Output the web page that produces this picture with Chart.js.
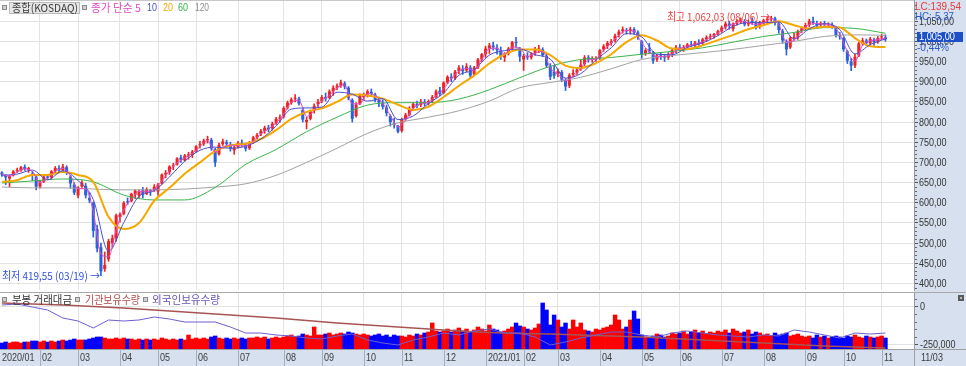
<!DOCTYPE html>
<html><head><meta charset="utf-8">
<script src="https://cdn.jsdelivr.net/npm/chart.js@4/dist/chart.umd.min.js"></script>
<style>
html,body{margin:0;padding:0;background:#fff;}
#wrap{position:relative;width:966px;height:366px;overflow:hidden;background:#fff;}
#c1{position:absolute;left:0;top:0;}
#c2{position:absolute;left:0;top:291px;}
</style></head><body>
<div id="wrap"><canvas id="c1" width="966" height="291"></canvas><canvas id="c2" width="966" height="75"></canvas></div>
<script>
// ---------------- DATA ----------------
const candleDates = [
'2020/01/02','2020/01/06','2020/01/08','2020/01/10','2020/01/14','2020/01/16','2020/01/20','2020/01/22','2020/01/28','2020/01/30',
'2020/02/03','2020/02/05','2020/02/07','2020/02/11','2020/02/13','2020/02/17','2020/02/19','2020/02/21','2020/02/25','2020/02/27',
'2020/03/02','2020/03/04','2020/03/06','2020/03/10','2020/03/12','2020/03/16','2020/03/18','2020/03/20','2020/03/24','2020/03/26','2020/03/30',
'2020/04/01','2020/04/03','2020/04/07','2020/04/09','2020/04/13','2020/04/16','2020/04/20','2020/04/22','2020/04/24','2020/04/28',
'2020/05/04','2020/05/07','2020/05/11','2020/05/13','2020/05/15','2020/05/19','2020/05/21','2020/05/25','2020/05/27','2020/05/29',
'2020/06/01','2020/06/03','2020/06/05','2020/06/09','2020/06/11','2020/06/15','2020/06/17','2020/06/19','2020/06/23','2020/06/25','2020/06/29',
'2020/07/01','2020/07/03','2020/07/07','2020/07/09','2020/07/13','2020/07/15','2020/07/17','2020/07/21','2020/07/23','2020/07/27','2020/07/29','2020/07/31',
'2020/08/03','2020/08/05','2020/08/07','2020/08/11','2020/08/13','2020/08/18','2020/08/20','2020/08/24','2020/08/26','2020/08/28',
'2020/09/01','2020/09/03','2020/09/07','2020/09/09','2020/09/11','2020/09/15','2020/09/17','2020/09/21','2020/09/23','2020/09/25','2020/09/29',
'2020/10/05','2020/10/07','2020/10/12','2020/10/14','2020/10/16','2020/10/20','2020/10/22','2020/10/26','2020/10/28','2020/10/30',
'2020/11/02','2020/11/04','2020/11/06','2020/11/10','2020/11/12','2020/11/16','2020/11/18','2020/11/20','2020/11/24','2020/11/26','2020/11/30',
'2020/12/01','2020/12/03','2020/12/07','2020/12/09','2020/12/11','2020/12/15','2020/12/17','2020/12/21','2020/12/23','2020/12/28','2020/12/30',
'2021/01/04','2021/01/06','2021/01/08','2021/01/12','2021/01/14','2021/01/18','2021/01/20','2021/01/22','2021/01/26','2021/01/28',
'2021/02/01','2021/02/03','2021/02/05','2021/02/09','2021/02/15','2021/02/17','2021/02/19','2021/02/23','2021/02/25',
'2021/03/02','2021/03/04','2021/03/08','2021/03/10','2021/03/12','2021/03/16','2021/03/18','2021/03/22','2021/03/24','2021/03/26','2021/03/30',
'2021/04/01','2021/04/05','2021/04/07','2021/04/09','2021/04/13','2021/04/15','2021/04/19','2021/04/21','2021/04/23','2021/04/27','2021/04/29',
'2021/05/03','2021/05/06','2021/05/10','2021/05/12','2021/05/14','2021/05/18','2021/05/21','2021/05/25','2021/05/27','2021/05/31',
'2021/06/01','2021/06/03','2021/06/07','2021/06/09','2021/06/11','2021/06/15','2021/06/17','2021/06/21','2021/06/23','2021/06/25','2021/06/29',
'2021/07/01','2021/07/05','2021/07/07','2021/07/09','2021/07/13','2021/07/15','2021/07/19','2021/07/21','2021/07/23','2021/07/27','2021/07/29',
'2021/08/02','2021/08/04','2021/08/06','2021/08/10','2021/08/12','2021/08/17','2021/08/19','2021/08/23','2021/08/25','2021/08/27','2021/08/31',
'2021/09/01','2021/09/03','2021/09/07','2021/09/09','2021/09/13','2021/09/15','2021/09/17','2021/09/24','2021/09/28','2021/09/30',
'2021/10/01','2021/10/06','2021/10/08','2021/10/13','2021/10/15','2021/10/19','2021/10/21','2021/10/25','2021/10/27','2021/10/29',
'2021/11/01','2021/11/03'];

const openP = [
675,668,660,668,679,680,689,682,672,665, 640,652,665,663,678,686,680,688,665,645,
618,640,642,612,600,535,490,436,460,500,512, 565,573,603,604,620,618,632,622,630,632,
628,648,670,676,690,695,712,705,717,718, 728,742,746,755,756,732,720,745,750,744,730,
738,748,744,735,750,762,770,778,786,784,797,808, 814,836,848,858,858,830,800,808,828,845,
852,862,860,876,885,890,896,885,855,815,845, 862,868,875,868,855,848,836,815,798,790,
778,808,818,835,845,842,850,846,854,862,878, 872,898,912,908,926,932,928,935,918,936,955,
968,982,990,984,978,960,970,982,998,980, 955,964,960,970,978,980,964,938,925,
918,924,902,890,918,922,932,944,960,955,956, 958,980,988,996,1002,1015,1026,1028,1025,1030,1022,
1000,970,980,972,955,965,962,960,968,978, 985,982,986,992,990,997,995,1005,1010,1012,1018,
1025,1035,1044,1030,1044,1050,1050,1042,1050,1045,1036, 1045,1052,1056,1057,1044,1025,1000,985,1008,1010,1026,
1032,1040,1050,1044,1040,1045,1040,1040,1034,1015, 1008,975,950,940,965,995,1002,995,1004,998,1010,1010];
const highP = [
677,670,668,680,686,690,694,688,678,668, 655,667,670,680,690,692,695,692,668,650,
640,655,648,625,602,545,500,478,510,520,572, 575,603,612,624,632,632,638,637,634,645,
648,672,680,692,698,712,718,720,725,730, 742,752,758,765,760,735,748,758,755,750,742,
752,756,748,752,765,772,782,790,792,800,812,818, 838,852,860,868,862,835,812,830,845,856,
866,872,880,890,895,904,900,888,858,848,870, 872,880,882,872,862,855,842,818,810,792,
810,822,838,848,852,856,856,855,866,880,886, 900,915,920,928,940,940,945,940,938,958,970,
988,995,998,992,986,972,985,1000,1010,985, 968,972,972,985,990,984,968,945,940,
932,928,908,920,930,935,955,965,965,962,962, 980,992,1000,1005,1018,1028,1036,1032,1035,1034,1026,
1002,982,995,975,968,972,968,972,982,990, 992,990,995,1000,1000,1004,1008,1014,1018,1020,1028,
1038,1048,1050,1046,1054,1058,1054,1052,1058,1050,1050, 1055,1060,1062.03,1060,1048,1030,1004,1012,1020,1028,1036,
1045,1055,1060,1050,1048,1050,1046,1046,1036,1022, 1010,978,958,968,998,1008,1006,1010,1008,1012,1018,1016];
const lowP = [
665,645,640,666,675,678,680,675,655,632, 636,650,658,660,674,676,678,670,636,620,
612,638,612,600,515,478,419.55,430,455,490,505, 552,570,596,602,610,612,612,620,618,628,
618,646,662,670,682,693,700,703,708,712, 725,735,742,748,730,690,718,742,738,728,720,
735,740,728,732,747,758,766,772,776,780,794,800, 810,832,844,850,842,800,783,805,822,838,
848,852,858,866,880,886,882,855,800,812,843, 855,862,866,850,838,832,815,790,785,773,
775,804,815,828,835,838,840,842,850,860,865, 870,895,900,905,920,918,925,910,915,932,950,
960,970,978,968,955,950,966,978,985,950, 928,955,956,965,972,962,935,905,908,
912,900,878,885,912,918,928,940,948,948,950, 955,975,982,990,998,1010,1020,1018,1018,1018,1005,
958,965,970,945,950,955,950,955,962,972, 978,975,982,988,985,990,990,1000,1005,1008,1015,
1022,1030,1030,1025,1040,1044,1038,1038,1042,1030,1032, 1040,1048,1050,1040,1020,995,966,982,1002,1005,1022,
1028,1036,1042,1032,1035,1036,1034,1032,1010,1005, 975,945,927,935,962,990,990,990,990,995,1004,1000];
const closeP = [
670,663,666,678,680,688,683,686,668,640, 652,665,662,678,686,680,690,675,648,625,
638,650,618,606,530,487,430,446,505,512,569, 571,600,601,622,630,629,620,634,629,640,
645,670,674,690,692,710,706,717,720,727, 740,745,754,758,735,700,744,752,746,735,738,
748,744,734,750,762,768,778,786,782,796,808,812, 835,848,856,860,846,806,805,828,840,850,
862,858,876,885,890,898,888,860,808,843,866, 868,876,870,856,848,838,822,800,795,776,
806,818,832,845,840,850,845,852,862,876,870, 898,912,908,925,935,926,938,915,935,955,968,
982,990,985,978,962,968,982,998,996,962, 964,960,968,980,982,966,940,912,915,
926,905,888,916,922,930,942,960,955,956,957, 978,988,996,1000,1014,1024,1030,1025,1030,1022,1012,
968,978,975,952,965,962,960,968,978,985, 982,986,992,990,997,994,1005,1010,1012,1018,1025,
1034,1044,1038,1044,1050,1052,1042,1048,1046,1036,1046, 1052,1056,1058,1046,1028,1002,980,1008,1010,1025,1032,
1040,1050,1046,1040,1045,1040,1042,1036,1015,1012, 980,952,940,962,995,1002,996,1006,998,1008,1012,1005];

const maPeriods = [5, 10, 20, 60, 120];
const ma5 = [672,666,676,684,678,650,661,678,685,667, 635,635,578,473,466,533,582,609,628,627,
634,654,680,699,711,722,739,754,726,738, 743,741,741,752,771,783,798,820,849,854,
814,828,853,866,885,892,845,845,871,866, 846,816,788,805,834,845,849,866,882,908,
926,933,928,956,982,983,968,986,983,962, 971,975,934,919,902,913,933,954,956,978,
996,1015,1027,1026,996,975,962,962,970,982, 988,993,999,1010,1020,1036,1042,1050,1046,1042,
1046,1056,1041,998,1003,1025,1042,1044,1042,1039, 1018,975,951,991,1001,1004,1008];
const ma10 = [668,671,681,657,679,655,608,480,551,616, 630,664,703,730,738,735,740,758,790,832,
835,837,874,869,852,858,806,815,846,872, 916,930,966,977,981,967,956,909,920,954,
984,1019,1011,968,967,985,996,1014,1037,1047, 1046,1048,1006,1031,1044,1029,969,992,1006];
const ma20 = [652,656,669,669,676,669,652,565,535,550, 605,637,672,700,728,742,746,758,780,808,
825,834,850,868,866,858,843,830,838,862, 890,915,945,968,980,980,966,940,934,946,
968,998,1015,1002,982,981,990,1003,1016,1030, 1040,1050,1040,1032,1036,1034,1008,988,986];
const ma60 = [649,654,659,652,619,607,607,638,695,732,776,812,842,848,848,857,880,910,938,955,960,968,975,984,998,1012,1022,1034,1032,1020];
const ma120 = [639,637,637,634,632,632,634,639,647,668,700,735,772,798,812,828,852,885,898,911,932,955,965,972,980,990,1000,1012,1016,1015];

// lower panel
const tradeValue = [
6,7,6,7,7,6,7,7,8,8, 7,8,7,8,7,8,9,8,9,10, 9,9,9,10,11,12,12,11,10,10,11, 10,11,10,10,9,10,9,10,9,10,
9,11,10,9,10,9,10,9,14,10, 11,10,11,10,12,13,11,10,11,10,11, 10,11,10,11,11,12,11,12,10,11,12,11,
12,13,14,12,13,15,14,13,22,14, 14,15,16,14,15,16,15,17,16,15,14, 15,14,13,14,15,13,14,12,14,13,
13,12,14,13,15,14,16,17,26,18,17, 18,20,17,19,21,18,20,17,19,22,20,
18,24,20,19,17,18,20,22,26,23, 22,20,19,21,25,46,39,24,34, 29,22,26,20,29,22,26,19,18,17,20,
19,21,22,24,34,29,20,22,29,38,30, 14,12,11,13,15,14,12,13,16,15, 16,18,15,17,19,16,18,15,17,16,18,
17,19,16,20,18,16,17,19,15,17,16, 14,15,13,16,14,15,16,13,14,15,13, 12,13,11,14,12,13,11,12,13,12,
11,13,12,14,12,11,13,12,11,12,13,11];
const foreignHold = [44,45,42,39,31,28,21,29,28,29, 32,30,27,27,27,22,16,16,14,13, 11,10,13,15,9,6,4,9,12,16,
14,18,20,16,16,12,4,7,11,14, 17,17,14,12,16,18,16,14,13,12, 14,13,19,17,14,11,16,15,16];
const instHold = [46,45,44,42.5,41,39,37,35,33,31,28.5,26,24,22,20,18,16.5,15.5,15,14,13,12,10.5,9,7.5,6,4.5,3,2,1];

const priceTicks = [400,450,500,550,600,650,700,750,800,850,900,950,1000,1050];
const volAxisTicks = [0, -250000];
const lcValue = 139.54, hcValue = -5.37, lastChangePct = -0.44;
const highMark = [1062.03, '08/06'];
const lowMark = [419.55, '03/19'];

// ---------------- HELPERS ----------------
const KFONT = '"Noto Sans CJK KR", "Noto Sans", sans-serif';
const NFONT = '"Liberation Sans", Arial, sans-serif';
const NUM_SX = 0.82;           // horizontal squeeze of numeric labels (narrow look)
const AXIS_BG = '#d6e0ee';
const UP = '#ec2424', DOWN = '#2a62dc';
const VUP = '#ff0000', VDOWN = '#0000ff';
const EMPTY_SLOTS = 7;
const labels = candleDates.concat(new Array(EMPTY_SLOTS).fill(''));
const monthStart = [];
candleDates.forEach((d, i) => { if (i === 0 || d.slice(0, 7) !== candleDates[i - 1].slice(0, 7)) monthStart.push(i); });
const monthSet = new Set(monthStart.filter(i => i > 0));
const monthLabel = i => { const d = candleDates[i]; const m = d.slice(5, 7); return m === '01' ? d.slice(0, 7) : m; };
const every = (arr, step) => arr.map((v, k) => ({ x: candleDates[k * step], y: v }));
const isUp = i => closeP[i] >= openP[i];

function fmt2(v) {
  const s = Math.abs(v).toFixed(2).split('.');
  return (v < 0 ? '-' : '') + s[0].replace(/\B(?=(\d{3})+(?!\d))/g, ',') + ',' + s[1];
}
function fmtInt(v) { return String(v).replace(/\B(?=(\d{3})+(?!\d))/g, ','); }
function fitText(ctx, txt, x, y, w, size, color, family, align) {
  ctx.save();
  ctx.font = size + 'px ' + family;
  const m = ctx.measureText(txt).width;
  const s = w / m;
  ctx.translate(align === 'right' ? x - w : x, y);
  ctx.scale(s, 1);
  ctx.fillStyle = color; ctx.textBaseline = 'middle'; ctx.textAlign = 'left';
  ctx.fillText(txt, 0, 0);
  ctx.restore();
}
function sText(ctx, txt, x, y, size, color, family, sx) {
  ctx.save();
  ctx.font = size + 'px ' + family;
  ctx.translate(x, y); ctx.scale(sx, 1);
  ctx.fillStyle = color; ctx.textBaseline = 'middle'; ctx.textAlign = 'left';
  ctx.fillText(txt, 0, 0);
  ctx.restore();
}
function icon(ctx, x, y) {
  ctx.fillStyle = '#8a8a8a'; ctx.fillRect(x, y, 5, 5);
  ctx.fillStyle = '#d0d0d0'; ctx.fillRect(x + 1, y + 1, 3, 3);
}
function lineDs(label, data, color, width, order, axis, smooth) {
  return { type: 'line', label, data, borderColor: color, backgroundColor: color, borderWidth: width,
    pointRadius: 0, tension: smooth ? 0.4 : 0, cubicInterpolationMode: smooth ? 'monotone' : 'default',
    yAxisID: axis, order };
}
const monthGrid = { offset: false, drawTicks: false, color: c => monthSet.has(c.index) ? '#e3e3e3' : 'rgba(0,0,0,0)' };

// ---------------- PRICE PANEL ----------------
const pricePlugin = {
  id: 'pricePanel',
  beforeDraw(chart) {
    const { ctx, chartArea: a, width, height } = chart;
    ctx.save();
    ctx.fillStyle = '#fff'; ctx.fillRect(0, 0, width, height);
    ctx.fillStyle = AXIS_BG; ctx.fillRect(a.right, 0, width - a.right, height);
    ctx.restore();
  },
  afterDraw(chart) {
    const { ctx, chartArea: a } = chart;
    const xs = chart.scales.x, ys = chart.scales.y;
    ctx.save();
    ctx.fillStyle = '#c8c8c8'; ctx.fillRect(0, 0, a.right, 1);
    // minor ticks
    ctx.fillStyle = '#666';
    for (let v = 390; v <= 1100; v += 10) {
      if (v % 50 === 0) continue;
      ctx.fillRect(a.right + 1, Math.round(ys.getPixelForValue(v)), 2, 1);
    }
    // tick labels of the price axis
    priceTicks.forEach(v => sText(ctx, fmt2(v), a.right + 5, ys.getPixelForValue(v) + 0.5, 11, '#333', NFONT, NUM_SX));
    // title legend
    icon(ctx, 2, 5);
    ctx.fillStyle = '#e6e6e6'; ctx.fillRect(9, 2, 71, 12);
    ctx.strokeStyle = '#bcbcbc'; ctx.lineWidth = 1; ctx.strokeRect(9.5, 2.5, 70, 11);
    fitText(ctx, '종합(KOSDAQ)', 12, 8, 66, 11, '#3a3a3a', KFONT);
    icon(ctx, 82, 5);
    fitText(ctx, '종가 단순 ' + maPeriods[0], 91, 8, 50, 11, '#e04cc4', KFONT);
    fitText(ctx, String(maPeriods[1]), 147, 8, 10, 11, '#4a50c8', NFONT);
    fitText(ctx, String(maPeriods[2]), 163, 8, 10, 11, '#f0a800', NFONT);
    fitText(ctx, String(maPeriods[3]), 178, 8, 10, 11, '#2fb04a', NFONT);
    fitText(ctx, String(maPeriods[4]), 195, 8, 14, 11, '#8c8c8c', NFONT);
    // high / low notes
    const iMax = highP.indexOf(highMark[0]);
    const hx = xs.getPixelForValue(iMax), hy = ys.getPixelForValue(highP[iMax]);
    fitText(ctx, '최고 ' + fmt2(highMark[0]) + ' (' + highMark[1] + ') →', hx - 1, hy + 1, 103, 11, '#f04040', KFONT, 'right');
    const iMin = lowP.indexOf(lowMark[0]);
    const lx = xs.getPixelForValue(iMin), ly = ys.getPixelForValue(lowP[iMin]);
    fitText(ctx, '최저 ' + fmt2(lowMark[0]) + ' (' + lowMark[1] + ') →', lx - 1, ly, 98, 11, '#2f52d8', KFONT, 'right');
    // right side info
    fitText(ctx, 'LC:' + fmt2(lcValue), a.right + 1, 6.5, 46, 11, '#e63c3c', NFONT);
    fitText(ctx, 'HC:' + fmt2(hcValue), a.right + 1, 16.5, 39, 11, '#2a5ad0', NFONT);
    const last = closeP[closeP.length - 1];
    const py = ys.getPixelForValue(last);
    ctx.fillStyle = '#1d4fc6'; ctx.fillRect(a.right + 3, Math.round(py - 7), 46, 10);
    fitText(ctx, fmt2(last), a.right + 5, py - 2, 36, 11, '#ffffff', NFONT);
    fitText(ctx, fmt2(lastChangePct) + '%', a.right + 3, py + 9, 32, 11, '#2a5ad0', NFONT);
    ctx.restore();
  }
};

new Chart(document.getElementById('c1'), {
  type: 'bar',
  data: {
    labels,
    datasets: [
      { label: 'wick', data: highP.map((h, i) => [lowP[i], h]), backgroundColor: c => isUp(c.dataIndex) ? UP : DOWN,
        barThickness: 1, grouped: false, order: 10, yAxisID: 'y' },
      { label: 'body', data: openP.map((o, i) => [o, closeP[i]]), backgroundColor: c => isUp(c.dataIndex) ? UP : DOWN,
        barPercentage: 0.8, categoryPercentage: 1, minBarLength: 1, grouped: false, order: 9, yAxisID: 'y' },
      lineDs('MA120', every(ma120, 8), '#a2a2a2', 1, 5, 'y', true),
      lineDs('MA60', every(ma60, 8), '#3cb44e', 1, 4, 'y', true),
      lineDs('MA20', every(ma20, 4), '#f4a800', 2, 3, 'y', true),
      lineDs('MA10', every(ma10, 4), '#4c50c8', 1, 2, 'y', true),
      lineDs('MA5', every(ma5, 2), '#e44cc8', 1, 1, 'y', true)
    ]
  },
  options: {
    responsive: false, animation: false, events: [], devicePixelRatio: 1,
    layout: { padding: { left: 0, right: 0, top: 0, bottom: 1 } },
    plugins: { legend: { display: false }, tooltip: { enabled: false } },
    scales: {
      x: { offset: true, grid: monthGrid, ticks: { display: false }, border: { display: false } },
      y: { position: 'right', min: 383.9, max: 1102.4,
        afterBuildTicks: s => { s.ticks = priceTicks.map(v => ({ value: v })); },
        afterFit: s => { s.width = 52; s.paddingTop = 0; s.paddingBottom = 0; },
        grid: { color: '#e3e3e3', drawTicks: true, tickLength: 4, tickColor: '#555' },
        border: { display: true, color: '#9a9a9a' },
        ticks: { display: false } }
    }
  },
  plugins: [pricePlugin]
});

// ---------------- LOWER PANEL ----------------
const volPlugin = {
  id: 'volPanel',
  beforeDraw(chart) {
    const { ctx, chartArea: a, width, height } = chart;
    ctx.save();
    ctx.fillStyle = '#fff'; ctx.fillRect(0, 0, width, height);
    ctx.fillStyle = AXIS_BG; ctx.fillRect(a.right, 0, width - a.right, height);
    ctx.fillRect(0, a.bottom, width, height - a.bottom);
    ctx.restore();
  },
  afterDraw(chart) {
    const { ctx, chartArea: a, width, height } = chart;
    const xs = chart.scales.x, ys = chart.scales.y;
    ctx.save();
    ctx.fillStyle = '#a8a8a8'; ctx.fillRect(0, 1, width, 1);
    ctx.fillStyle = '#a0a0a0'; ctx.fillRect(0, a.bottom, width, 1);
    ctx.fillRect(a.right, a.bottom, 1, height - a.bottom);
    // minor ticks
    ctx.fillStyle = '#666';
    for (let v = -200000; v <= 50000; v += 50000) {
      if (v === 0) continue;
      ctx.fillRect(a.right + 1, Math.round(ys.getPixelForValue(v)), 2, 1);
    }
    volAxisTicks.forEach(v => sText(ctx, fmtInt(v), a.right + 6, ys.getPixelForValue(v) + 0.5, 11, '#333', NFONT, NUM_SX));
    // month row
    const midY = (a.bottom + height) / 2 + 0.5;
    monthStart.forEach(i => {
      const x = Math.round(xs.getPixelForValue(i));
      if (i > 0) { ctx.fillStyle = '#a4aebd'; ctx.fillRect(x, a.bottom, 1, height - a.bottom); }
      sText(ctx, monthLabel(i), i === 0 ? 2 : x + 2, midY, 11, '#3c3c3c', NFONT, NUM_SX);
    });
    const lastD = candleDates[candleDates.length - 1];
    sText(ctx, lastD.slice(5, 7) + '/' + lastD.slice(8, 10), a.right + 7, midY, 11, '#3c3c3c', NFONT, NUM_SX);
    // legend
    icon(ctx, 2, 6);
    fitText(ctx, '분봉 거래대금', 12, 8.5, 60, 11, '#333333', KFONT);
    icon(ctx, 75, 6);
    fitText(ctx, '기관보유수량', 85, 8.5, 55, 11, '#b04a4a', KFONT);
    icon(ctx, 143, 6);
    fitText(ctx, '외국인보유수량', 152, 8.5, 68, 11, '#6a52b4', KFONT);
    // small panel icon
    ctx.fillStyle = '#5a5a5a'; ctx.fillRect(958, 4, 6, 6);
    ctx.fillStyle = '#bdbdbd'; ctx.fillRect(960, 6, 2, 2);
    ctx.restore();
  }
};

new Chart(document.getElementById('c2'), {
  type: 'bar',
  data: {
    labels,
    datasets: [
      { label: '거래대금', data: tradeValue, yAxisID: 'yv', backgroundColor: c => isUp(c.dataIndex) ? VUP : VDOWN,
        barPercentage: 1, categoryPercentage: 1, order: 5 },
      lineDs('기관보유수량', every(instHold, 8), '#a85454', 1.3, 2, 'yl', false),
      lineDs('외국인보유수량', every(foreignHold, 4), '#6f5fcf', 1, 1, 'yl', false)
    ]
  },
  options: {
    responsive: false, animation: false, events: [], devicePixelRatio: 1,
    layout: { padding: { left: 0, right: 0, top: 2, bottom: 17 } },
    plugins: { legend: { display: false }, tooltip: { enabled: false } },
    scales: {
      x: { offset: true, grid: monthGrid, ticks: { display: false }, border: { display: false } },
      y: { position: 'right', min: -281250, max: 91090,
        afterBuildTicks: s => { s.ticks = volAxisTicks.map(v => ({ value: v })); },
        afterFit: s => { s.width = 52; s.paddingTop = 0; s.paddingBottom = 0; },
        grid: { color: '#e3e3e3', drawTicks: true, tickLength: 4, tickColor: '#555' },
        border: { display: true, color: '#9a9a9a' },
        ticks: { display: false } },
      yv: { display: false, min: 0, max: 56 },
      yl: { display: false, min: 0, max: 56 }
    }
  },
  plugins: [volPlugin]
});
</script></body></html>
